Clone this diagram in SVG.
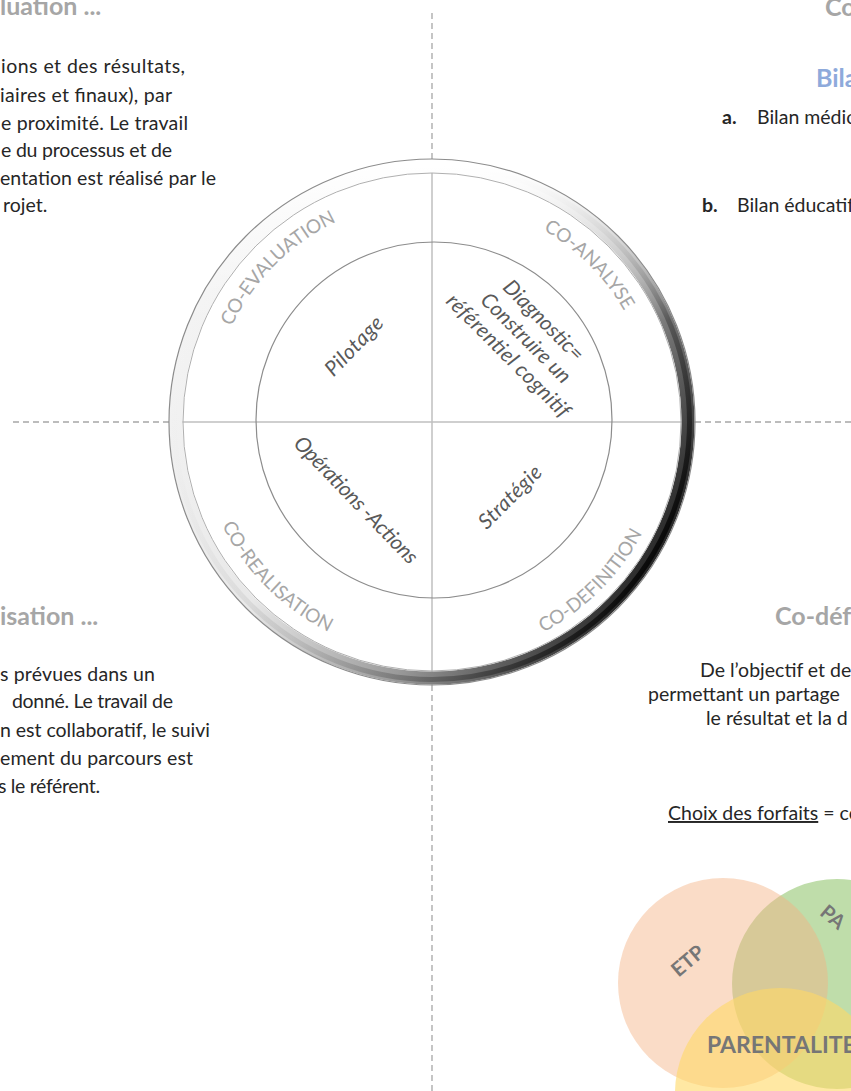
<svg xmlns="http://www.w3.org/2000/svg" width="851" height="1091" viewBox="0 0 851 1091">
<defs>
<style>
.body{font-family:Lato,"Liberation Sans",sans-serif;font-size:19.5px;fill:#262626}
.head{font-family:Lato,"Liberation Sans",sans-serif;font-size:25px;font-weight:bold;fill:#a6a6a6}
.ring{font-family:Lato,"Liberation Sans",sans-serif;font-size:19px;fill:#a6a6a6}
.inner{font-family:Lato,"Liberation Sans",sans-serif;font-size:21px;font-style:italic;fill:#595959}
.venn{font-family:Lato,"Liberation Sans",sans-serif;font-weight:bold;fill:#767676}
.solid{stroke:#bfbfbf;stroke-width:1.5;fill:none}
.dash{stroke:#a6a6a6;stroke-width:1.3;stroke-dasharray:6 4;fill:none}
</style>
<linearGradient id="bevel" x1="0.05" y1="0.2" x2="0.95" y2="0.75">
<stop offset="0" stop-color="#f4f4f4"/>
<stop offset="0.4" stop-color="#e8e8e8"/>
<stop offset="0.7" stop-color="#9a9a9a"/>
<stop offset="1" stop-color="#262626"/>
</linearGradient>
<linearGradient id="bevel2" x1="0.05" y1="0.2" x2="0.95" y2="0.75">
<stop offset="0" stop-color="#ffffff" stop-opacity="0"/>
<stop offset="0.5" stop-color="#aaaaaa" stop-opacity="0.4"/>
<stop offset="1" stop-color="#000000" stop-opacity="0.85"/>
</linearGradient>
<linearGradient id="topfade" x1="0" y1="0" x2="0" y2="1">
<stop offset="0" stop-color="#ffffff" stop-opacity="1"/>
<stop offset="0.3" stop-color="#ffffff" stop-opacity="0"/>
</linearGradient>
<path id="arcTL" d="M 210 422 A 222 222 0 0 1 432 200"/>
<path id="arcTR" d="M 432 200 A 222 222 0 0 1 654 422"/>
<path id="arcBL" d="M 198 422 A 234 234 0 0 0 432 656"/>
<path id="arcBR" d="M 432 660 A 238 238 0 0 0 670 422"/>
</defs>
<rect width="851" height="1091" fill="#ffffff"/>

<g id="connectors">
<line class="dash" x1="432" y1="13" x2="432" y2="159"/>
<line class="dash" x1="432" y1="685" x2="432" y2="1091"/>
<line class="dash" x1="13" y1="422" x2="170" y2="422"/>
<line class="dash" x1="695" y1="422" x2="851" y2="422"/>
<line class="solid" x1="432" y1="159" x2="432" y2="685"/>
<line class="solid" x1="170" y1="422" x2="695" y2="422"/>
</g>

<g id="cycle">
<circle cx="432" cy="422" r="256" fill="none" stroke="url(#bevel)" stroke-width="13"/>
<circle cx="432" cy="422" r="257.5" fill="none" stroke="url(#bevel2)" stroke-width="5"/>
<circle cx="432" cy="422" r="256" fill="none" stroke="url(#topfade)" stroke-width="14"/>
<circle cx="432" cy="422" r="263" fill="none" stroke="#8c8c8c" stroke-width="1.2"/>
<circle cx="432" cy="422" r="249" fill="none" stroke="#b0b0b0" stroke-width="1"/>
<circle cx="434" cy="420" r="178" fill="none" stroke="#8c8c8c" stroke-width="1.2"/>
</g>

<g id="co-evaluation"><text class="ring"><textPath href="#arcTL" startOffset="50%" text-anchor="middle">CO-EVALUATION</textPath></text></g>
<g id="co-analyse"><text class="ring"><textPath href="#arcTR" startOffset="50%" text-anchor="middle">CO-ANALYSE</textPath></text></g>
<g id="co-realisation"><text class="ring"><textPath href="#arcBL" startOffset="50%" text-anchor="middle">CO-REALISATION</textPath></text></g>
<g id="co-definition"><text class="ring"><textPath href="#arcBR" startOffset="50%" text-anchor="middle">CO-DEFINITION</textPath></text></g>

<g id="pilotage"><text class="inner" transform="translate(353,345) rotate(-46)" text-anchor="middle" dominant-baseline="central" textLength="74">Pilotage</text></g>
<g id="diagnostic"><g transform="translate(527,337) rotate(45)">
<text class="inner" x="0" y="-25" text-anchor="middle" dominant-baseline="central">Diagnostic=</text>
<text class="inner" x="0" y="0" text-anchor="middle" dominant-baseline="central">Construire un</text>
<text class="inner" x="0" y="25" text-anchor="middle" dominant-baseline="central" textLength="165">référentiel cognitif</text>
</g></g>
<g id="operations"><text class="inner" transform="translate(357,499) rotate(46)" text-anchor="middle" dominant-baseline="central" textLength="168">Opérations -Actions</text></g>
<g id="strategie"><text class="inner" transform="translate(509,496) rotate(-45)" text-anchor="middle" dominant-baseline="central" textLength="80">Stratégie</text></g>

<g id="top-left">
<text class="head" x="0" y="15">luation ...</text>
<text class="body" x="1" y="73" textLength="184">ions et des résultats,</text>
<text class="body" x="0" y="102" textLength="172">iaires et finaux), par</text>
<text class="body" x="1" y="130" textLength="187">e proximité. Le travail</text>
<text class="body" x="1" y="157" textLength="171">e du processus et de</text>
<text class="body" x="0" y="185" textLength="216">entation est réalisé par le</text>
<text class="body" x="3" y="212">rojet.</text>
</g>

<g id="top-right">
<text class="head" x="825" y="16">Co</text>
<text class="head" x="816" y="87" style="fill:#8eaadb">Bila</text>
<text class="body" x="722" y="124"><tspan font-weight="bold">a.</tspan><tspan x="757">Bilan médic</tspan></text>
<text class="body" x="702" y="212"><tspan font-weight="bold">b.</tspan><tspan x="737">Bilan éducatif</tspan></text>
</g>

<g id="bottom-left">
<text class="head" x="0" y="625">isation ...</text>
<text class="body" x="0" y="681" textLength="155">s prévues dans un</text>
<text class="body" x="12" y="708" textLength="161">donné. Le travail de</text>
<text class="body" x="0" y="737" textLength="210">n est collaboratif, le suivi</text>
<text class="body" x="0" y="765" textLength="193">ement du parcours est</text>
<text class="body" x="-2" y="793" textLength="102">s le référent.</text>
</g>

<g id="bottom-right">
<text class="head" x="775" y="625">Co-déf</text>
<text class="body" x="700" y="677">De l’objectif et de</text>
<text class="body" x="648" y="701">permettant un partage</text>
<text class="body" x="706" y="725">le résultat et la d</text>
<text class="body" x="668" y="820"><tspan text-decoration="underline">Choix des forfaits</tspan> = co</text>
</g>

<g id="venn">
<circle cx="837" cy="984" r="105" fill="#a9d18e" opacity="0.75"/>
<circle cx="723" cy="983" r="105" fill="#f4b183" opacity="0.45"/>
<circle cx="780" cy="1093" r="105" fill="#ffd966" opacity="0.6"/>
<text class="venn" font-size="20" transform="translate(687,960) rotate(-40)" text-anchor="middle" dominant-baseline="central">ETP</text>
<text class="venn" font-size="20" transform="translate(824,908) rotate(40)" dominant-baseline="central">PA</text>
<text class="venn" font-size="23" x="707" y="1053">PARENTALITE</text>
</g>
</svg>
